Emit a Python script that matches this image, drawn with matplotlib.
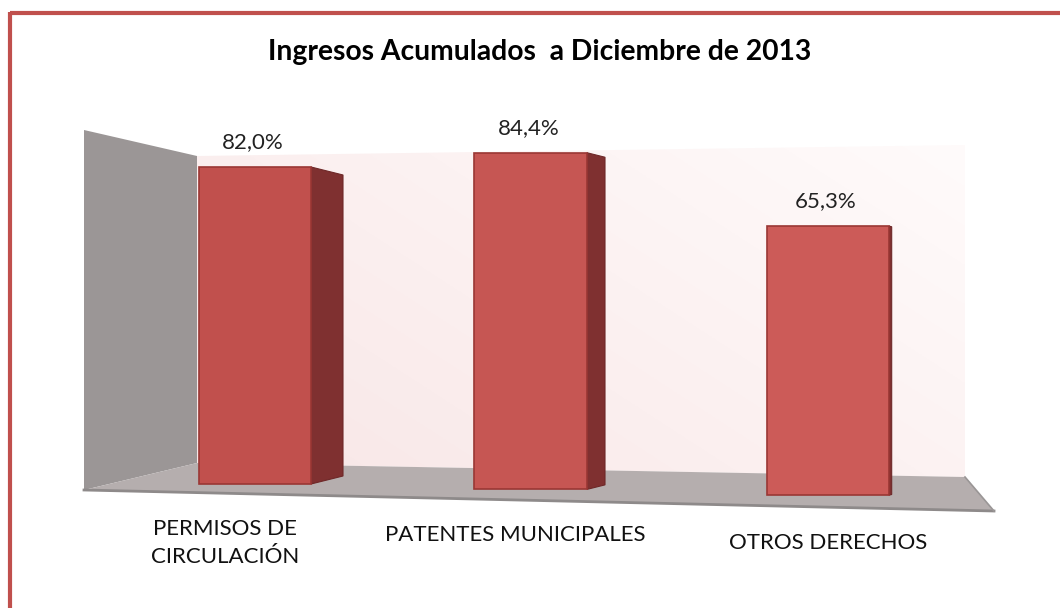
import matplotlib
matplotlib.use('Agg')
import matplotlib.pyplot as plt
import numpy as np
from matplotlib.patches import Polygon

# datos del grafico
categorias = ['PERMISOS DE\nCIRCULACIÓN', 'PATENTES MUNICIPALES', 'OTROS DERECHOS']
valores = [82.0, 84.4, 65.3]
etiquetas = ['82,0%', '84,4%', '65,3%']
titulo = 'Ingresos Acumulados  a Diciembre de 2013'

# geometria (pixeles) - perspectiva aproximada de la vista 3D
izq = np.array([199, 474, 767])
anchos = np.array([112, 113, 122])

def escala(x):      # pixeles por punto porcentual segun la posicion
    return 3.866 + 0.000445 * (x - 255)

def base(x):        # linea de base del frente de la barra
    return 484 + 0.0195 * (x - 255)

def prof(xr):       # profundidad visible de la cara lateral
    return max(0.0, 0.0507 * (942 - xr))

rojo = '#c0504d'
rojo_osc = '#7f3030'

fig = plt.figure(figsize=(10.6, 6.08), dpi=100)
ax = fig.add_axes([0, 0, 1, 1])
ax.set_xlim(0, 1060)
ax.set_ylim(608, 0)
ax.axis('off')

# pared izquierda
ax.add_patch(Polygon([(84, 130), (197, 156), (197, 463), (84, 490)],
                     closed=True, fc='#9b9696', ec='none', zorder=1))
# pared del fondo con degradado rosado
fondo = Polygon([(197, 156), (965, 145), (965, 477), (197, 463)],
                closed=True, fc='none', ec='none')
ax.add_patch(fondo)
gx, gy = np.meshgrid(np.linspace(0, 1, 200), np.linspace(0, 1, 200))
t = (gx * 0.6 + (1 - gy) * 0.4)
c0 = np.array([248, 230, 230]) / 255
c1 = np.array([255, 251, 251]) / 255
img = c0[None, None, :] * (1 - t[..., None]) + c1[None, None, :] * t[..., None]
im = ax.imshow(img, extent=[197, 965, 477, 145], origin='upper', zorder=1, aspect='auto')
im.set_clip_path(fondo)

# piso
ax.add_patch(Polygon([(84, 490), (197, 463), (965, 477), (994, 511)],
                     closed=True, fc='#b5aeae', ec='none', zorder=2))
ax.plot([84, 994], [490, 511], color='#8e8a8a', lw=2, zorder=2)
ax.plot([965, 994], [477, 511], color='#9a9696', lw=1.2, zorder=2)

# barras (cara frontal)
centros = izq + anchos / 2
esc = np.array([escala(c) for c in centros])
bases = np.array([base(c) for c in centros])
alturas = np.array(valores) * esc
ax.bar(izq, -alturas, bottom=bases, width=anchos, align='edge',
       color=['#c1504d', '#c65653', '#cc5b58'], edgecolor='#9a3734', linewidth=1.2, zorder=4)

# caras laterales
for xl, w, b, h in zip(izq, anchos, bases, alturas):
    xr = xl + w
    d = prof(xr)
    if d < 1:
        continue
    top = b - h
    dy = d * 0.25
    ax.add_patch(Polygon([(xr, top), (xr + d, top + dy), (xr + d, b - dy), (xr, b)],
                         closed=True, fc=rojo_osc, ec='#6e2828', lw=0.8, zorder=3))

# etiquetas de datos
for c, b, h, txt in zip(centros, bases, alturas, etiquetas):
    ax.text(c - 2, b - h - 25, txt, ha='center', va='center', fontsize=16,
            family='Lato', color='#222222', zorder=5)

# categorias
pos_cat = [(225, 543), (515, 535), (828, 543)]
for (x, y), txt in zip(pos_cat, categorias):
    ax.text(x, y, txt, ha='center', va='center', fontsize=16, family='Lato',
            color='#111111', linespacing=1.55)

# titulo
ax.text(540, 52, titulo, ha='center', va='center', fontsize=20.3, family='Lato',
        fontweight='bold', color='black')

# marco rojo (solo arriba e izquierda visibles)
ax.plot([9.5, 1060], [13, 13], color=rojo, lw=3, solid_capstyle='butt', zorder=6)
ax.plot([9.5, 9.5], [11.5, 608], color=rojo, lw=3, solid_capstyle='butt', zorder=6)

fig.savefig('out.png', dpi=100)
